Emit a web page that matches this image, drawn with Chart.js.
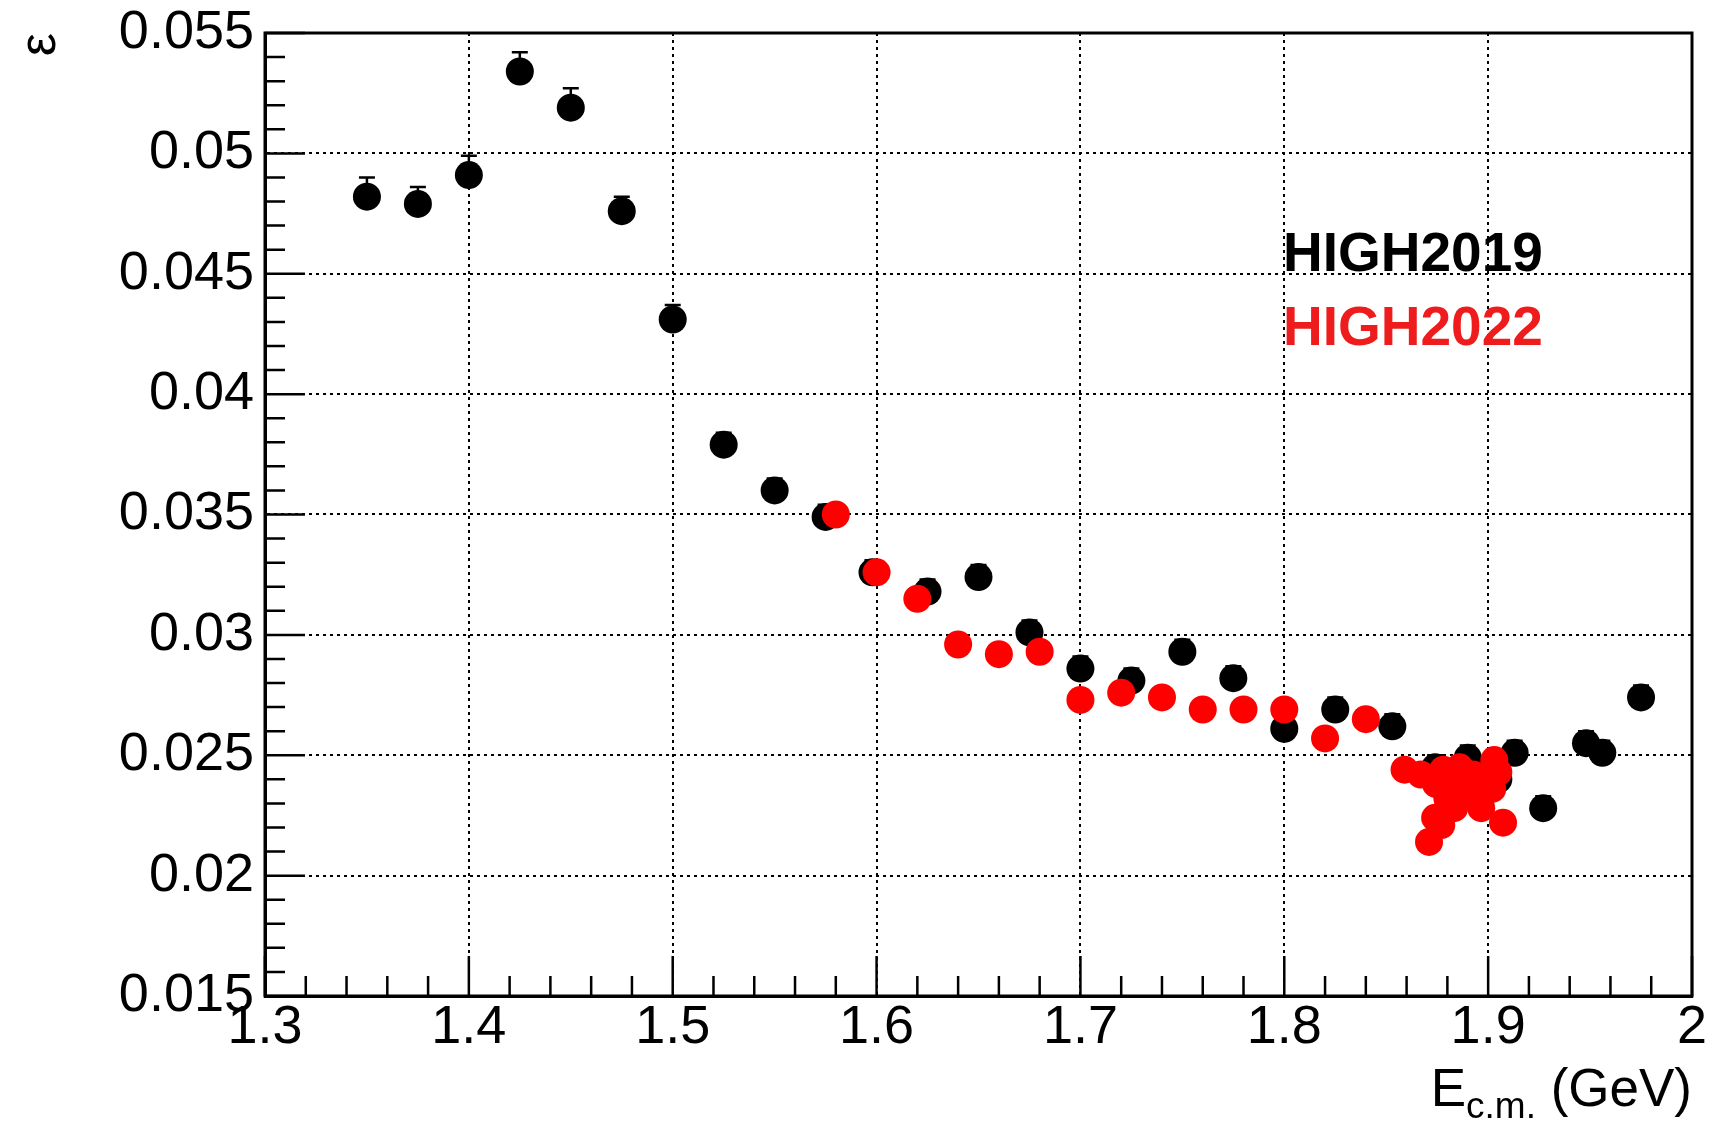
<!DOCTYPE html>
<html>
<head>
<meta charset="utf-8">
<script src="https://cdn.jsdelivr.net/npm/chart.js@4.4.1/dist/chart.umd.min.js"></script>
<style>
  html, body { margin: 0; padding: 0; background: #fff; }
  canvas { display: block; }
</style>
</head>
<body>
<canvas id="effChart" width="1716" height="1124"></canvas>
<script>
// HIGH2019 (black)
const energy2019 = [1.35, 1.375, 1.4, 1.425, 1.45, 1.475, 1.5, 1.525, 1.55, 1.575,
                    1.598, 1.625, 1.65, 1.675, 1.7, 1.725, 1.75, 1.775, 1.8, 1.825,
                    1.853, 1.874, 1.89, 1.895, 1.905, 1.913, 1.927, 1.948, 1.956, 1.975];
const eff2019 = [0.0482, 0.0479, 0.0491, 0.0534, 0.0519, 0.0476, 0.0431, 0.0379, 0.0360, 0.0349,
                 0.0326, 0.0318, 0.0324, 0.0301, 0.0286, 0.0281, 0.0293, 0.0282, 0.0261, 0.0269,
                 0.0262, 0.0245, 0.0249, 0.0236, 0.0240, 0.0251, 0.0228, 0.0255, 0.0251, 0.0274];
// 上側・下側の誤差（下側はマーカーに隠れる）
const errUp2019 = [0.0008, 0.0007, 0.0008, 0.0008, 0.0008, 0.0006, 0.0006, 0.0005, 0.0005, 0.0005,
                   0.0005, 0.0005, 0.0005, 0.0005, 0.0005, 0.0005, 0.0005, 0.0005, 0.0005, 0.0005,
                   0.0005, 0.0005, 0.0005, 0.0005, 0.0005, 0.0005, 0.0005, 0.0005, 0.0005, 0.0005];
const errDown2019 = [0.0004, 0.0004, 0.0004, 0.0004, 0.0004, 0.0004, 0.0004, 0.0004, 0.0004, 0.0004,
                     0.0004, 0.0004, 0.0004, 0.0004, 0.0004, 0.0004, 0.0004, 0.0004, 0.0004, 0.0004,
                     0.0004, 0.0004, 0.0004, 0.0004, 0.0004, 0.0004, 0.0004, 0.0004, 0.0004, 0.0004];

// HIGH2022 (red)
const energy2022 = [1.58, 1.6, 1.62, 1.64, 1.66, 1.68, 1.7, 1.72, 1.74, 1.76,
                    1.78, 1.8, 1.82, 1.84, 1.859, 1.867, 1.8745, 1.871, 1.874, 1.88,
                    1.8845, 1.89, 1.8926, 1.8966, 1.903, 1.902, 1.9073, 1.8833,
                    1.878, 1.886, 1.894, 1.899, 1.877, 1.905];
const eff2022 = [0.0350, 0.0326, 0.0315, 0.0296, 0.0292, 0.0293, 0.0273, 0.0276, 0.0274, 0.0269,
                 0.0269, 0.0269, 0.0257, 0.0265, 0.0244, 0.0242, 0.0238, 0.0214, 0.0224, 0.0232,
                 0.0239, 0.0234, 0.0242, 0.0228, 0.0248, 0.0236, 0.0222, 0.0228,
                 0.0244, 0.0245, 0.0233, 0.0240, 0.0221, 0.0243];

const xTicks = [1.3, 1.4, 1.5, 1.6, 1.7, 1.8, 1.9, 2.0];
const yTicks = [0.015, 0.02, 0.025, 0.03, 0.035, 0.04, 0.045, 0.05, 0.055];
const legendLabels = ['HIGH2019', 'HIGH2022'];

const toPts = (xs, ys) => xs.map((x, i) => ({ x: x, y: ys[i] }));
const tickFont = { family: "'Liberation Sans', Arial, sans-serif", size: 54 };

// エラーバー（HIGH2019）
const errorBars = {
    id: 'errorBars',
    beforeDatasetsDraw(chart) {
        const ctx = chart.ctx;
        const xs = chart.scales.x, ys = chart.scales.y;
        ctx.save();
        ctx.strokeStyle = '#000';
        ctx.lineWidth = 2.5;
        energy2019.forEach((e, i) => {
            const px = xs.getPixelForValue(e);
            const top = ys.getPixelForValue(eff2019[i] + errUp2019[i]);
            const bot = ys.getPixelForValue(eff2019[i] - errDown2019[i]);
            ctx.beginPath();
            ctx.moveTo(px, top); ctx.lineTo(px, bot);
            ctx.moveTo(px - 8, top); ctx.lineTo(px + 8, top);
            ctx.moveTo(px - 8, bot); ctx.lineTo(px + 8, bot);
            ctx.stroke();
        });
        ctx.restore();
    }
};

// 枠・小目盛り・凡例・x軸タイトル
const frameAndLabels = {
    id: 'frameAndLabels',
    afterDraw(chart) {
        const ctx = chart.ctx;
        const a = chart.chartArea;
        const xs = chart.scales.x, ys = chart.scales.y;
        ctx.save();
        ctx.strokeStyle = '#000';
        ctx.lineWidth = 2.5;
        ctx.beginPath();
        for (let k = 0; k <= 35; k++) {
            const v = 1.3 + k * 0.02;
            const px = xs.getPixelForValue(v);
            const len = (k % 5 === 0) ? 40 : 20;
            ctx.moveTo(px, a.bottom); ctx.lineTo(px, a.bottom - len);
        }
        for (let k = 0; k <= 40; k++) {
            const v = 0.015 + k * 0.001;
            const py = ys.getPixelForValue(v);
            const len = (k % 5 === 0) ? 40 : 20;
            ctx.moveTo(a.left, py); ctx.lineTo(a.left + len, py);
        }
        ctx.stroke();

        ctx.lineWidth = 3;
        ctx.strokeRect(a.left, a.top, a.right - a.left, a.bottom - a.top);

        // 凡例テキスト
        ctx.font = "bold 55px 'Liberation Sans', Arial, sans-serif";
        ctx.textAlign = 'left';
        ctx.textBaseline = 'alphabetic';
        ctx.fillStyle = '#000';
        ctx.fillText(legendLabels[0], 1283, 271);
        ctx.fillStyle = '#ee1c1c';
        ctx.fillText(legendLabels[1], 1283, 345);

        // x軸タイトル E_c.m. (GeV)
        ctx.fillStyle = '#000';
        const big = "53px 'Liberation Sans', Arial, sans-serif";
        const small = "37px 'Liberation Sans', Arial, sans-serif";
        ctx.font = big;
        const wE = ctx.measureText('E').width;
        const wG = ctx.measureText(' (GeV)').width;
        ctx.font = small;
        const wS = ctx.measureText('c.m.').width;
        const x0 = a.right - (wE + wS + wG);
        ctx.font = big;
        ctx.fillText('E', x0, 1106);
        ctx.font = small;
        ctx.fillText('c.m.', x0 + wE, 1118);
        ctx.font = big;
        ctx.fillText(' (GeV)', x0 + wE + wS, 1106);
        ctx.restore();
    }
};

new Chart(document.getElementById('effChart'), {
    type: 'scatter',
    data: {
        datasets: [
            {
                label: legendLabels[1],
                data: toPts(energy2022, eff2022),
                backgroundColor: '#ff0000',
                borderColor: '#ff0000',
                pointRadius: 14,
                pointBorderWidth: 0,
                order: 1
            },
            {
                label: legendLabels[0],
                data: toPts(energy2019, eff2019),
                backgroundColor: '#000',
                borderColor: '#000',
                pointRadius: 14,
                pointBorderWidth: 0,
                order: 2
            }
        ]
    },
    options: {
        responsive: false,
        animation: false,
        devicePixelRatio: 1,
        layout: { padding: { left: 0, top: 33, right: 24, bottom: 0 } },
        plugins: { legend: { display: false }, tooltip: { enabled: false } },
        scales: {
            x: {
                type: 'linear',
                min: 1.3, max: 2.0,
                afterBuildTicks: s => { s.ticks = xTicks.map(v => ({ value: v })); },
                afterFit: s => { s.height = 128; s.paddingLeft = 0; s.paddingRight = 0; },
                ticks: {
                    color: '#000',
                    font: tickFont,
                    padding: 0,
                    maxRotation: 0,
                    callback: v => String(parseFloat(v.toFixed(2)))
                },
                grid: { color: '#000', lineWidth: 2, drawTicks: false },
                border: { display: true, color: '#000', width: 3, dash: [3, 4] }
            },
            y: {
                type: 'linear',
                min: 0.015, max: 0.055,
                afterBuildTicks: s => { s.ticks = yTicks.map(v => ({ value: v })); },
                afterFit: s => { s.width = 265; s.paddingTop = 0; s.paddingBottom = 0; },
                ticks: {
                    color: '#000',
                    font: tickFont,
                    padding: 11,
                    callback: v => String(parseFloat(v.toFixed(3)))
                },
                title: {
                    display: true,
                    text: 'ε',
                    align: 'end',
                    color: '#000',
                    font: { family: "'Liberation Sans', Arial, sans-serif", size: 52 },
                    padding: { top: 9, bottom: 0 }
                },
                grid: { color: '#000', lineWidth: 2, drawTicks: false },
                border: { display: true, color: '#000', width: 3, dash: [3, 4] }
            }
        }
    },
    plugins: [errorBars, frameAndLabels]
});
</script>
</body>
</html>
